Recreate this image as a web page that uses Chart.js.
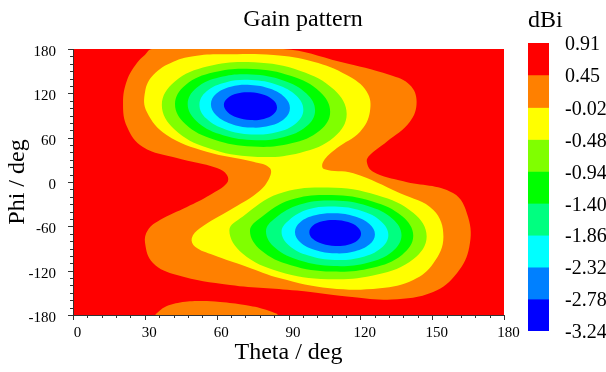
<!DOCTYPE html>
<html>
<head>
<meta charset="utf-8">
<title>Gain pattern</title>
<script src="https://cdn.jsdelivr.net/npm/chart.js"></script>
<style>
  body { margin: 0; background: #fff; }
  #wrap { position: relative; width: 606px; height: 372px; }
  #wrap canvas { position: absolute; top: 0; }
</style>
</head>
<body>
<div id="wrap">
  <canvas id="gain" width="606" height="372" style="left:0"></canvas>
  <canvas id="scale" width="101" height="372" style="left:505px"></canvas>
</div>
<script>
// contour levels in dBi, top of colour scale first
const levels = [0.91, 0.45, -0.02, -0.48, -0.94, -1.40, -1.86, -2.32, -2.78, -3.24];
const bandColors = ["#ff0000", "#ff8000", "#ffff00", "#80ff00", "#00ff00", "#00ff80", "#00ffff", "#0080ff", "#0000ff"];

const thetaTicks = [0, 30, 60, 90, 120, 150, 180];
const phiTicks = [-180, -120, -60, 0, 60, 120, 180];

// isolines as [theta, phi] in degrees
const gain045Main = [
  [33, 180], [87.7, 180], [111.5, 162.8], [132.4, 144.8], [140.7, 131.3], [143.5, 108.7],
  [140.7, 81.6], [131, 54.5], [124, 36.5], [122.7, 27.5], [125.3, 14], [138, 1],
  [158.7, -14.9], [165, -47.4], [165.5, -88], [160.4, -123.2], [150.4, -148.9], [133, -159],
  [114.4, -155], [93.6, -147], [65.6, -139.4], [43.4, -125.9], [33.4, -109.6], [30.1, -82.6],
  [31.3, -65], [36.3, -51.4], [47.6, -33.8], [57.2, -17.6], [64.3, -1.4], [64.3, 9.5],
  [60.1, 19], [43.4, 32.5], [29.2, 47.4], [22.6, 74.4], [20.9, 106.9], [22.6, 138], [26.7, 161.1],
  [30, 172],
];
const gain045Edge = [
  [34.5, -180], [35.1, -177.3], [38.4, -169.2], [44.7, -163.1], [53, -161],
  [61.4, -162.4], [71.8, -166.5], [80.2, -172.6], [85.2, -180], [60, -180],
];
const gainM002 = [
  [62.8, 172.8], [83.7, 171.9], [100.4, 162.8], [114.3, 144.8], [122.7, 122.2], [124.0, 95.1],
  [119.9, 68.1], [110.1, 45.6], [104.5, 27.5], [104.8, 17.6], [117.1, 11.8], [136.6, -15.3],
  [150.5, -37.9], [154.7, -74.0], [150.5, -110.0], [142.1, -132.6], [128.2, -143.9], [107.3, -143.9],
  [86.5, -130.3], [72.5, -114.6], [58.6, -98.8], [51.0, -87.6], [49.6, -76.2], [53.0, -62.7],
  [65.6, -37.9], [76.7, -15.3], [81.6, 2.7], [82.3, 18.5], [75.3, 27.5], [55.8, 41.0],
  [39.1, 63.6], [30.8, 95.1], [30.1, 122.2], [33.5, 144.8], [41.9, 162.8], [51.7, 170.9],
];

// minimum near theta 74, phi 102
const upperM048 = [
  [114.3, 91.9], [109.1, 124.7], [95.0, 150.3], [75.7, 162.0], [56.4, 156.5], [42.3, 135.4],
  [37.1, 104.3], [42.3, 71.5], [56.4, 45.9], [75.7, 34.2], [95.0, 39.7], [109.1, 60.8],
];
const upperM094 = [
  [107.4, 95.2], [103.1, 122.2], [91.2, 143.3], [75.0, 152.9], [58.8, 148.5], [46.9, 131.1],
  [42.6, 105.6], [46.9, 78.6], [58.8, 57.5], [75.0, 47.9], [91.2, 52.3], [103.1, 69.7],
];
const upperM140 = [
  [101.1, 96.9], [97.5, 119.7], [87.8, 137.5], [74.5, 145.6], [61.2, 141.8], [51.5, 127.1],
  [47.9, 105.5], [51.5, 82.7], [61.2, 64.9], [74.5, 56.8], [87.8, 60.6], [97.5, 75.3],
];
const upperM186 = [
  [96.2, 97.7], [93.3, 116.6], [85.4, 131.3], [74.5, 138.0], [63.7, 134.8], [55.7, 122.6],
  [52.8, 104.7], [55.7, 85.8], [63.7, 71.1], [74.5, 64.4], [85.4, 67.6], [93.3, 79.8],
];
const upperM232 = [
  [90.6, 100.0], [88.4, 114.7], [82.4, 126.2], [74.1, 131.4], [65.9, 128.9], [59.8, 119.3],
  [57.6, 105.2], [59.8, 90.5], [65.9, 79.0], [74.1, 73.8], [82.4, 76.3], [88.4, 85.9],
];
const upperM278 = [
  [85.2, 100.8], [83.7, 110.5], [79.7, 118.0], [74.1, 121.4], [68.5, 119.8], [64.5, 113.5],
  [63.0, 104.4], [64.5, 94.7], [68.5, 87.2], [74.1, 83.8], [79.7, 85.4], [83.7, 91.7],
];

// minimum near theta 109, phi -69
const lowerM048 = [
  [147.7, -73.6], [142.2, -42.1], [127.1, -17.9], [106.5, -7.5], [85.9, -16], [70.8, -47],
  [65.3, -65.4], [70.8, -96.9], [85.9, -121.1], [106.5, -131.5], [127.1, -125.3], [142.2, -104.1],
];
const lowerM094 = [
  [142.1, -72.8], [137.5, -46.5], [125.1, -26.3], [108.0, -17.6], [91.0, -24], [78.5, -48],
  [73.9, -66.0], [78.5, -92.4], [91.0, -112.6], [108.0, -121.2], [125.1, -116.0], [137.5, -98.3],
];
const lowerM140 = [
  [137.2, -72.2], [133.4, -49.7], [123.1, -32.5], [108.9, -25.1], [94.8, -30.5], [84.4, -49],
  [80.6, -66.6], [84.4, -89.1], [94.8, -106.3], [108.9, -113.7], [123.1, -109.2], [133.4, -94.0],
];
const lowerM186 = [
  [131.7, -71.6], [128.7, -53.3], [120.6, -39.3], [109.4, -33.3], [98.3, -37.0], [90.1, -52],
  [87.1, -67.2], [90.1, -85.5], [98.3, -99.5], [109.4, -105.5], [120.6, -101.8], [128.7, -89.4],
];
const lowerM232 = [
  [126.1, -71.1], [123.9, -57.3], [117.8, -46.8], [109.4, -42.3], [101.1, -45.1], [94.9, -54.4],
  [92.7, -67.7], [94.9, -81.5], [101.1, -92.0], [109.4, -96.5], [117.8, -93.7], [123.9, -84.4],
];
const lowerM278 = [
  [120.3, -70.1], [118.9, -61.1], [114.9, -54.3], [109.5, -51.4], [104.1, -53.2], [100.1, -59.3],
  [98.7, -67.9], [100.1, -76.9], [104.1, -83.7], [109.5, -86.6], [114.9, -84.8], [118.9, -78.7],
];

// [index into levels, isoline]; the region inside takes the band just below that level
const isolines = [
  [1, gain045Main], [1, gain045Edge], [2, gainM002],
  [3, upperM048], [3, lowerM048], [4, upperM094], [4, lowerM094],
  [5, upperM140], [5, lowerM140], [6, upperM186], [6, lowerM186],
  [7, upperM232], [7, lowerM232], [8, upperM278], [8, lowerM278],
];

const serif = "'Liberation Serif', 'Times New Roman', serif";
Chart.defaults.font.family = serif;
Chart.defaults.color = "#000";

const datasets = isolines.map(([lvl, pts]) => ({
  data: pts.map(([t, p]) => ({ x: t, y: p })),
  backgroundColor: bandColors[lvl],
  borderWidth: 0,
  pointRadius: 0,
  tension: 0.4,
  fill: "shape",
  order: levels.length - lvl,
}));

// treat every isoline as a closed curve so the spline wraps around smoothly
const closedLines = {
  id: "closedLines",
  afterDatasetUpdate(chart, { meta }) {
    const line = meta.dataset;
    if (!line) return;
    line._loop = true;
    line._fullLoop = true;
    line._segments = undefined;
    line._path = undefined;
    line._pointsUpdated = false;
  },
};

const plotBackground = {
  id: "plotBackground",
  beforeDatasetsDraw(chart) {
    const { ctx, chartArea: a } = chart;
    ctx.save();
    ctx.fillStyle = bandColors[0];
    ctx.fillRect(a.left, a.top, a.right - a.left, a.bottom - a.top);
    ctx.restore();
  },
};

// outward major and minor tick marks
const tickMarks = {
  id: "tickMarks",
  afterDraw(chart) {
    const { ctx, chartArea: { left, bottom }, scales: { x, y } } = chart;
    ctx.save();
    ctx.strokeStyle = "#333";
    ctx.lineWidth = 1;
    ctx.beginPath();
    for (let v = 0; v <= 180; v += 6) {
      const px = Math.round(x.getPixelForValue(v)) + 0.5;
      ctx.moveTo(px, bottom);
      ctx.lineTo(px, bottom + (v % 30 === 0 ? 5 : 3));
    }
    for (let v = -180; v <= 180; v += 10) {
      const py = Math.round(y.getPixelForValue(v)) + 0.5;
      ctx.moveTo(left, py);
      ctx.lineTo(left - (v % 60 === 0 ? 5 : 3), py);
    }
    ctx.stroke();
    ctx.restore();
  },
};

new Chart(document.getElementById("gain"), {
  type: "line",
  data: { datasets },
  plugins: [closedLines, plotBackground, tickMarks],
  options: {
    responsive: false,
    animation: false,
    devicePixelRatio: 1,
    layout: { padding: 0 },
    plugins: {
      legend: { display: false },
      tooltip: { enabled: false },
      title: {
        display: true,
        text: "Gain pattern",
        font: { size: 24, weight: "normal" },
        color: "#000",
        padding: { top: 5, bottom: 15.2 },
      },
    },
    scales: {
      x: {
        type: "linear",
        min: 0,
        max: 180,
        afterBuildTicks: (s) => { s.ticks = thetaTicks.map((value) => ({ value })); },
        afterFit: (s) => { s.height = 57; },
        grid: { display: false },
        border: { display: true, color: "#333", width: 1, z: 1 },
        ticks: { font: { size: 15 }, color: "#000", padding: 1, labelOffset: 4.5, maxRotation: 0 },
        title: { display: true, text: "Theta / deg", font: { size: 24 }, color: "#000", padding: { top: 0, bottom: 5 } },
      },
      y: {
        type: "linear",
        min: -180,
        max: 180,
        afterBuildTicks: (s) => { s.ticks = phiTicks.map((value) => ({ value })); },
        afterFit: (s) => { s.width = 73; },
        grid: { display: false },
        border: { display: true, color: "#333", width: 1, z: 1 },
        ticks: { font: { size: 15 }, color: "#000", padding: 9, labelOffset: 3 },
        title: { display: true, text: "Phi / deg", font: { size: 24 }, color: "#000", padding: { top: 3, bottom: 0 } },
      },
      // room on the right for the colour scale
      yRight: {
        axis: "y",
        position: "right",
        display: true,
        afterFit: (s) => { s.width = 102; },
        grid: { display: false },
        border: { display: false },
        ticks: { display: false },
      },
    },
  },
});

// colour scale
new Chart(document.getElementById("scale"), {
  type: "bar",
  data: {
    labels: ["dBi"],
    datasets: bandColors.map((c, i) => ({
      data: [[levels[i + 1], levels[i]]],
      backgroundColor: c,
      borderWidth: 0,
      barPercentage: 1,
      categoryPercentage: 1,
      grouped: false,
    })),
  },
  options: {
    responsive: false,
    animation: false,
    devicePixelRatio: 1,
    layout: { padding: { left: 23, bottom: 41 } },
    plugins: {
      legend: { display: false },
      tooltip: { enabled: false },
      title: {
        display: true,
        text: "dBi",
        align: "start",
        font: { size: 24, weight: "normal" },
        color: "#000",
        padding: { top: 6, bottom: 8.2 },
      },
    },
    scales: {
      x: { display: false },
      y: {
        position: "right",
        min: levels[levels.length - 1],
        max: levels[0],
        afterBuildTicks: (s) => { s.ticks = levels.map((value) => ({ value })); },
        afterFit: (s) => { s.width = 57; },
        grid: { display: false },
        border: { display: false },
        ticks: {
          autoSkip: false,
          font: { size: 20 },
          color: "#000",
          padding: 8,
          labelOffset: 2,
          callback: (v) => v.toFixed(2),
        },
      },
    },
  },
});
</script>
</body>
</html>
